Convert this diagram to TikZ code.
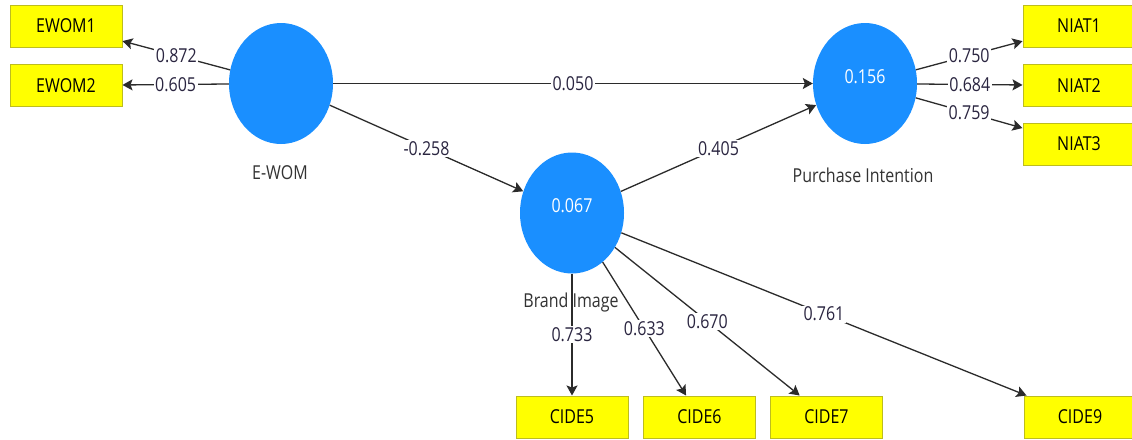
\documentclass[tikz,border=0pt]{standalone}
\usepackage{fontspec}
\setmainfont{Open Sans}
\usetikzlibrary{arrows.meta,shapes.geometric}
\definecolor{lv}{HTML}{1A8FFF}
\definecolor{indf}{HTML}{FFFF00}
\definecolor{indb}{HTML}{BDBD1E}
\definecolor{edgec}{HTML}{2B2B2B}
\definecolor{numc}{HTML}{2A2540}
\definecolor{labc}{HTML}{333333}
\newcommand{\tx}[1]{\scalebox{1}[1.2]{#1}}
\begin{document}
\begin{tikzpicture}[x=1pt,y=-1pt,
  every node/.style={font=\fontsize{16}{18}\selectfont},
  indbox/.style={rectangle, draw=indb, fill=indf, line width=1pt, minimum width=112pt, minimum height=42pt, inner sep=0pt, text=black},
  latent/.style={ellipse, fill=lv, minimum width=104pt, minimum height=121pt, inner sep=0pt},
  conn/.style={draw=edgec, line width=1.3pt, -{Stealth[length=10pt,width=11pt,inset=2pt]}},
  coef/.style={fill=white, inner sep=1.5pt, text=numc},
  lvval/.style={text=white},
  lvname/.style={text=labc},
]
\path[use as bounding box, fill=white] (0,0) rectangle (1132,439);

% indicators
\node[indbox] (e1) at (66,26) {\tx{EWOM1}};
\node[indbox] (e2) at (66,85.5) {\tx{EWOM2}};
\node[indbox] (n1) at (1079,26) {\tx{NIAT1}};
\node[indbox] (n2) at (1079,85.5) {\tx{NIAT2}};
\node[indbox] (n3) at (1079,144) {\tx{NIAT3}};
\node[indbox] (c5) at (572,417) {\tx{CIDE5}};
\node[indbox] (c6) at (699.5,417) {\tx{CIDE6}};
\node[indbox] (c7) at (826.5,417) {\tx{CIDE7}};
\node[indbox] (c9) at (1080,417) {\tx{CIDE9}};

% latent variables
\node[latent] (ew) at (281,83.5) {};
\node[latent] (pi) at (865,83.5) {};
\node[latent] (bi) at (572,213) {};
\node[lvval] (piv) at ([yshift=6.5pt]pi.center) {\tx{0.156}};
\node[lvval] (biv) at ([yshift=7pt]bi.center) {\tx{0.067}};
\node[lvname] (ewn) at (280,173) {\tx{E-WOM}};
\node[lvname] (pin) at (863,175) {\tx{Purchase Intention}};
\node[lvname] (bin) at (571,303) {\tx{Brand Image}};

% connectors
\draw[conn] (ew) -- node[coef]{\tx{0.872}} (e1);
\draw[conn] (ew) -- node[coef]{\tx{0.605}} (e2);
\draw[conn] (ew) -- node[coef]{\tx{0.050}} (pi);
\draw[conn] (ew) -- node[coef]{\tx{-0.258}} (bi);
\draw[conn] (bi) -- node[coef]{\tx{0.405}} (pi);
\draw[conn] (pi) -- node[coef]{\tx{0.750}} (n1);
\draw[conn] (pi) -- node[coef]{\tx{0.684}} (n2);
\draw[conn] (pi) -- node[coef]{\tx{0.759}} (n3);
\draw[conn] (bi) -- node[coef]{\tx{0.733}} (c5);
\draw[conn] (bi) -- node[coef]{\tx{0.633}} (c6);
\draw[conn] (bi) -- node[coef]{\tx{0.670}} (c7);
\draw[conn] (bi) -- node[coef]{\tx{0.761}} (c9);
\end{tikzpicture}
\end{document}
